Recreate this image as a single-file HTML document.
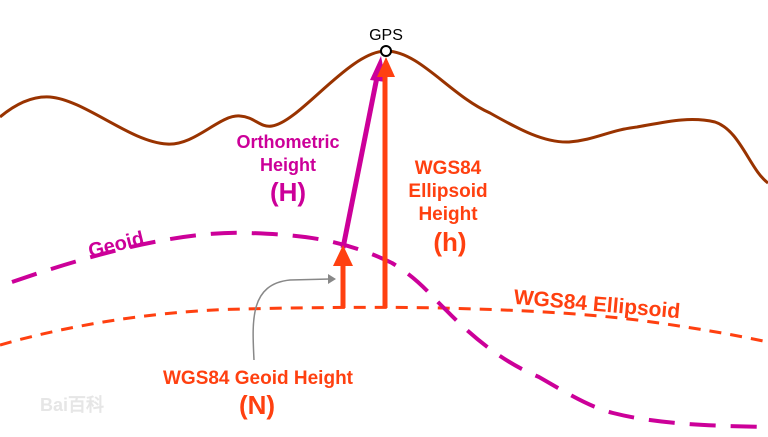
<!DOCTYPE html>
<html><head><meta charset="utf-8"><style>
html,body{margin:0;padding:0;background:#fff;}
svg{display:block;font-family:"Liberation Sans",sans-serif;font-weight:bold;}
</style></head><body>
<svg width="768" height="437" viewBox="0 0 768 437">
<path d="M0,117 C18,102 35,96 50,97 C85,100 130,142 167,144 C195,146 220,114 240,116 C255,117 260,128 272,126 C300,122 350,50 387,51 C420,52 450,95 490,113 C520,130 545,143 569,142 C595,140 610,130 637,127 C665,122 690,116 715,122 C740,130 750,170 768,183" fill="none" stroke="#993300" stroke-width="3"/>
<path d="M0,345 C80,322 170,310 245,309 C320,307 400,307 441,308 C520,310 580,313 637,320 C690,327 730,334 768,342" fill="none" stroke="#ff4010" stroke-width="3" stroke-dasharray="12,9"/>
<path d="M12,282 C90,255 180,230 250,233 C300,235 340,238 392,263 C420,280 430,295 446,310 C480,345 510,365 539,377 C570,395 590,407 613,413 C660,425 720,426 768,427" fill="none" stroke="#cc0099" stroke-width="4" stroke-dasharray="26,15"/>
<line x1="343" y1="248" x2="378" y2="72" stroke="#cc0099" stroke-width="5"/>
<polygon points="381,56 370,80 386,82" fill="#cc0099"/>
<line x1="385" y1="308" x2="385" y2="74" stroke="#ff4010" stroke-width="5"/>
<polygon points="386,57 377,77 395,77" fill="#ff4010"/>
<line x1="343" y1="308" x2="343" y2="262" stroke="#ff4010" stroke-width="5"/>
<polygon points="343,245 333,266 353,266" fill="#ff4010"/>
<path d="M254,360 C252,320 250,284 290,280 L330,279" fill="none" stroke="#888" stroke-width="1.5"/>
<polygon points="336,279 328,274 328,284" fill="#888"/>
<circle cx="386" cy="51" r="5" fill="#fff" stroke="#000" stroke-width="2"/>
<text x="386" y="40" text-anchor="middle" font-size="16" font-weight="normal" fill="#000">GPS</text>
<g fill="#cc0099" text-anchor="middle">
<text x="288" y="148" font-size="18">Orthometric</text>
<text x="288" y="171" font-size="18">Height</text>
<text x="288" y="201" font-size="26">(H)</text>
</g>
<g fill="#ff4010" text-anchor="middle">
<text x="448" y="174" font-size="19">WGS84</text>
<text x="448" y="197" font-size="19">Ellipsoid</text>
<text x="448" y="220" font-size="19">Height</text>
<text x="450" y="251" font-size="26">(h)</text>
</g>
<text x="116" y="251" text-anchor="middle" font-size="20" fill="#cc0099" transform="rotate(-14 116 244)">Geoid</text>
<text x="597" y="311" text-anchor="middle" font-size="21" fill="#ff4010" transform="rotate(5 597 304)">WGS84 Ellipsoid</text>
<g fill="#ff4010" text-anchor="middle">
<text x="258" y="384" font-size="19">WGS84 Geoid Height</text>
<text x="257" y="414" font-size="26">(N)</text>
</g>
<text x="40" y="411" font-size="18" fill="#e6e6e6">Bai百科</text>
</svg>
</body></html>
